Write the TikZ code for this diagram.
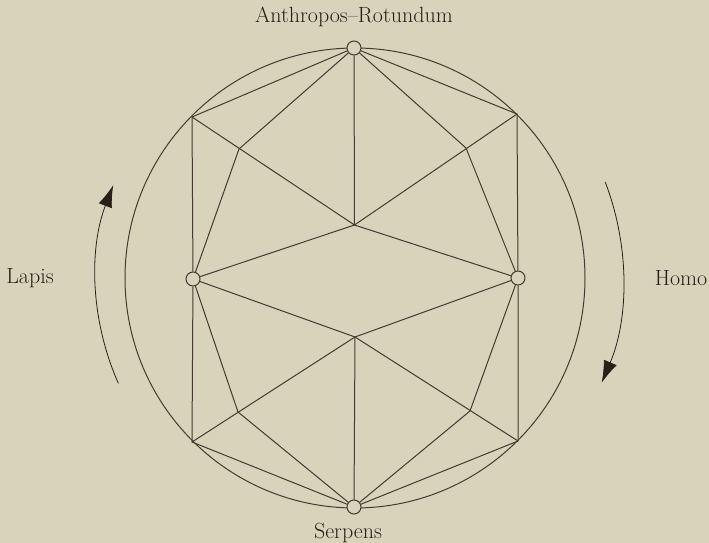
\documentclass[tikz,border=0pt]{standalone}
\usepackage{tikz}
\usetikzlibrary{arrows.meta}
\usepackage{xcolor}
\definecolor{paper}{RGB}{216,212,188}
\definecolor{ink}{RGB}{70,57,48}
\definecolor{darkink}{RGB}{42,30,25}

\begin{document}
\begin{tikzpicture}[x=1pt, y=1pt,
  edge/.style={ink, line width=1pt},
  pole/.style={circle, draw=ink, line width=1pt, fill=paper, inner sep=0pt, minimum size=14pt},
  lbl/.style={darkink, font=\fontsize{22}{26}\selectfont}]
  \fill[paper] (-355,-265) rectangle (354,278);
  \useasboundingbox (-355,-265) rectangle (354,278);

  % outer circle
  \draw[edge] (0,0) circle[radius=230];

  % corners on the rim and inner points
  \coordinate (ul) at (-163,161);
  \coordinate (ur) at (162,164);
  \coordinate (ll) at (-163,-164);
  \coordinate (lr) at (163,-163);
  \coordinate (cu) at (-0.5,53);
  \coordinate (cl) at (0,-59);
  \coordinate (p1) at (-116,129);
  \coordinate (p2) at (111,130);
  \coordinate (p3) at (-117,-134);
  \coordinate (p4) at (115,-133);

  % the four poles
  \node[pole] (anthropos) at (-1,230) {};
  \node[pole] (serpens) at (-1,-229) {};
  \node[pole] (lapis) at (-162,-1) {};
  \node[pole] (homo) at (163,0) {};

  % outline
  \draw[edge] (anthropos) -- (ul) -- (lapis) -- (ll) -- (serpens) -- (lr) -- (homo) -- (ur) -- (anthropos);

  % upper half
  \draw[edge] (anthropos) -- (p1) -- (lapis);
  \draw[edge] (anthropos) -- (p2) -- (homo);
  \draw[edge] (anthropos) -- (cu);
  \draw[edge] (ul) -- (cu) -- (ur);
  \draw[edge] (lapis) -- (cu) -- (homo);

  % lower half
  \draw[edge] (serpens) -- (p3) -- (lapis);
  \draw[edge] (serpens) -- (p4) -- (homo);
  \draw[edge] (serpens) -- (cl);
  \draw[edge] (ll) -- (cl) -- (lr);
  \draw[edge] (lapis) -- (cl) -- (homo);

  % direction of the circulation
  \draw[darkink, line width=0.8pt, -{Latex[length=22pt, width=14pt]}] (204:259) arc[start angle=204, end angle=159, radius=259];
  \draw[darkink, line width=0.8pt, -{Latex[length=22pt, width=14pt]}] (21:268) arc[start angle=21, end angle=-23, radius=268];

  % labels
  \node[lbl] (anthroposlbl) at (-1,261) {Anthropos--Rotundum};
  \node[lbl] (serpenslbl) at (-7,-255) {Serpens};
  \node[lbl] (lapislbl) at (-325,0) {Lapis};
  \node[lbl] (homolbl) at (326,0) {Homo};
\end{tikzpicture}
\end{document}
